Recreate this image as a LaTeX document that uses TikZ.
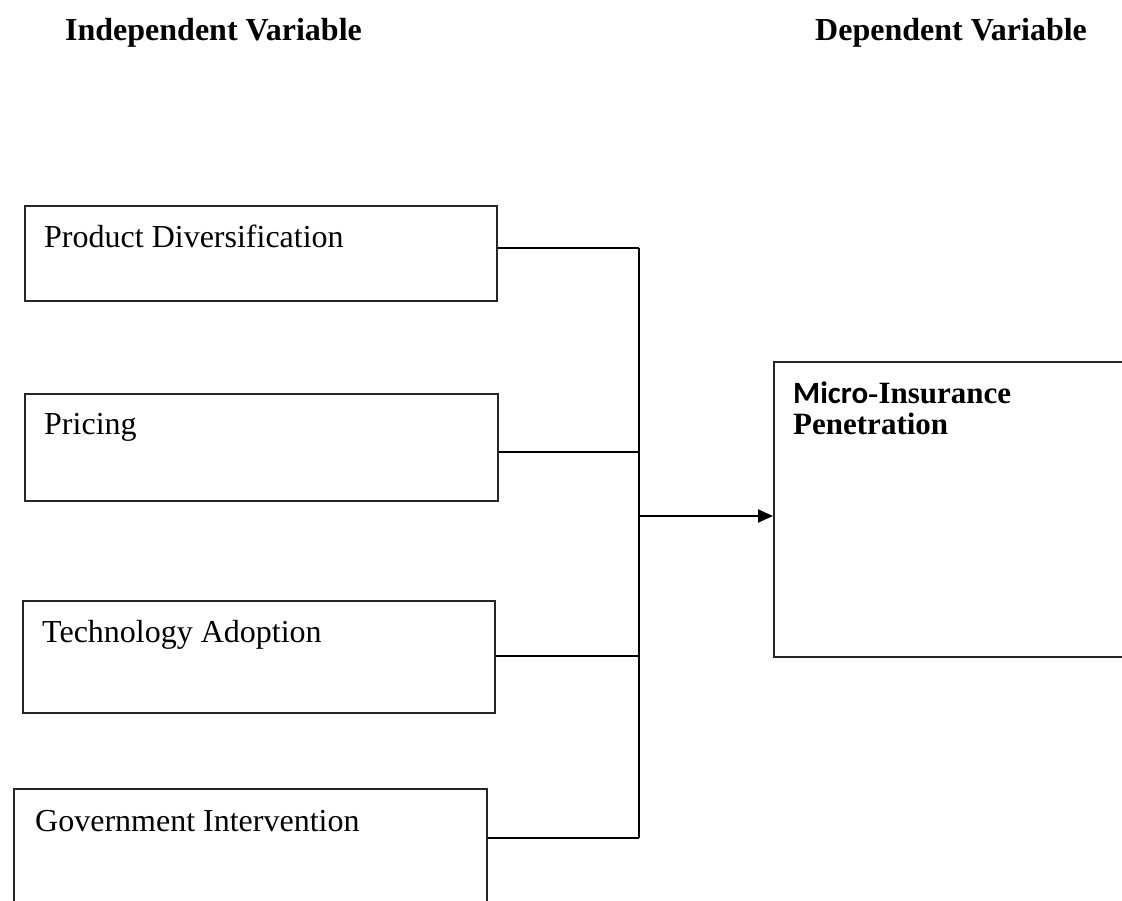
\documentclass[tikz,border=0pt]{standalone}
\usepackage{fontspec}
\setmainfont{Liberation Serif}[BoldFont={Liberation Serif Bold}]
\newfontfamily\tnrfont{Liberation Serif}[BoldFont={Liberation Serif Bold}]
\newfontfamily\carlitofont{Carlito}[BoldFont={Carlito Bold}]
\usetikzlibrary{arrows.meta}
\begin{document}
\begin{tikzpicture}[x=1pt,y=-1pt,
  box/.style={draw=black!85, line width=1.5pt, rectangle, anchor=north west, inner sep=0pt},
  lbl/.style={anchor=base west, inner sep=0pt, font=\tnrfont\fontsize{32}{38}\selectfont},
  hdr/.style={anchor=base west, inner sep=0pt, font=\tnrfont\fontsize{32}{38}\selectfont\bfseries},
  dvl/.style={anchor=base west, inner sep=0pt, font=\tnrfont\fontsize{31}{31}\selectfont\bfseries},
  conn/.style={line width=2pt, black}]
\useasboundingbox (0,0) rectangle (1122,900);
\clip (0,0) rectangle (1122,900);
\fill[white] (0,0) rectangle (1122,900);

\node[hdr] (h1) at (65,40) {Independent Variable};
\node[hdr] (h2) at (815,40) {Dependent Variable};

\node[box, minimum width=472pt, minimum height=95pt] (b1) at (24,205) {};
\node[box, minimum width=473pt, minimum height=107pt] (b2) at (24,393) {};
\node[box, minimum width=472pt, minimum height=112pt] (b3) at (22,600) {};
\node[box, minimum width=473pt, minimum height=140pt] (b4) at (13,788) {};
\node[box, minimum width=370pt, minimum height=295pt] (dv) at (773,361) {};

\node[lbl] (t1) at (44,247) {Product Diversification};
\node[lbl] (t2) at (44,434) {Pricing};
\node[lbl] (t3) at (42,642) {Technology Adoption};
\node[lbl] (t4) at (35,831) {Government Intervention};
\node[dvl] (t5) at (793,403) {{\carlitofont\bfseries Micro}\tnrfont\bfseries-Insurance};
\node[dvl] (t6) at (793,434) {Penetration};

\coordinate (j1) at (639,248);
\coordinate (j2) at (639,452);
\coordinate (j3) at (639,656);
\coordinate (j4) at (639,838);
\coordinate (ja) at (639,516);

\draw[conn] (b1.east |- j1) -- (j1);
\draw[conn] (b2.east |- j2) -- (j2);
\draw[conn] (b3.east |- j3) -- (j3);
\draw[conn] (b4.east |- j4) -- (j4);
\draw[conn] (j1) -- (j4);
\draw[conn, -{Triangle[length=15pt,width=13pt]}] (ja) -- (dv.west |- ja);
\end{tikzpicture}
\end{document}
